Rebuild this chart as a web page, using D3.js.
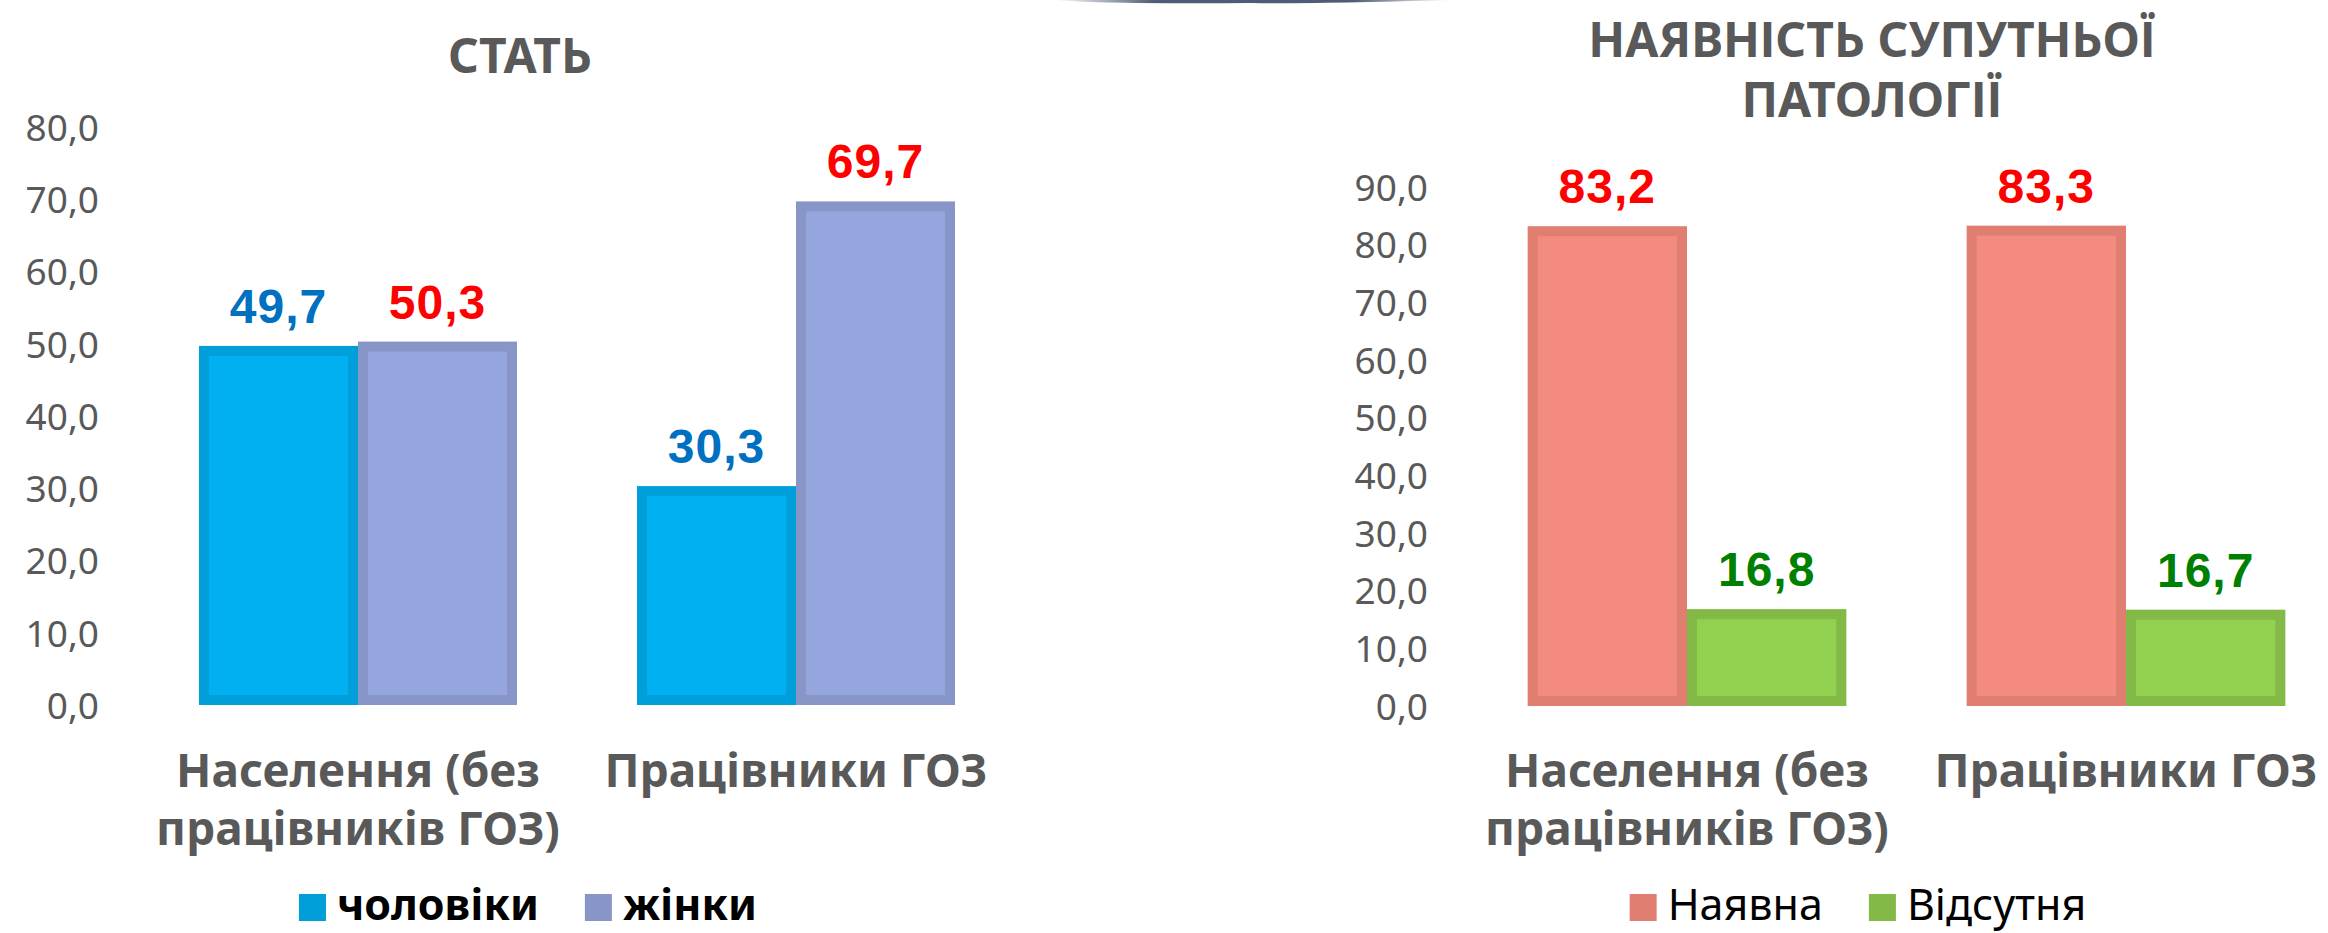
<!DOCTYPE html>
<html>
<head>
<meta charset="utf-8">
<script src="https://cdn.jsdelivr.net/npm/d3@7"></script>
<style>
  html, body { margin: 0; padding: 0; background: #fff; }
  svg { display: block; font-family: "Noto Sans", "Open Sans", "DejaVu Sans", sans-serif; }
</style>
</head>
<body>
<svg id="chart" width="2328" height="933"></svg>
<script>
// data
const categories = ["Населення (без працівників ГОЗ)", "Працівники ГОЗ"];
const categoryLines = [["Населення (без", "працівників ГОЗ)"], ["Працівники ГОЗ"]];

const sexTitle = ["СТАТЬ"];
const sexSeries = ["чоловіки", "жінки"];
const menValues = [49.7, 30.3];
const womenValues = [50.3, 69.7];
const sexTicks = [0, 10, 20, 30, 40, 50, 60, 70, 80];

const pathTitle = ["НАЯВНІСТЬ СУПУТНЬОЇ", "ПАТОЛОГІЇ"];
const pathSeries = ["Наявна", "Відсутня"];
const presentValues = [83.2, 83.3];
const absentValues = [16.8, 16.7];
const pathTicks = [0, 10, 20, 30, 40, 50, 60, 70, 80, 90];

const svg = d3.select('#chart');
const fmt = v => d3.format(".1f")(v).replace(".", ",");
const grey = "#595959";

// thin gradient strip at the top
const defs = svg.append("defs");
const grad = defs.append("linearGradient").attr("id", "topline");
grad.append("stop").attr("offset", "0%").attr("stop-color", "#3b4a66").attr("stop-opacity", 0);
grad.append("stop").attr("offset", "25%").attr("stop-color", "#3b4a66").attr("stop-opacity", 0.9);
grad.append("stop").attr("offset", "75%").attr("stop-color", "#3b4a66").attr("stop-opacity", 0.9);
grad.append("stop").attr("offset", "100%").attr("stop-color", "#3b4a66").attr("stop-opacity", 0);
svg.append("path")
  .attr("d", "M1055,0 L1452,0 Q1300,4 1253,3 L1250,3 Q1100,4 1055,0 Z")
  .attr("fill", "url(#topline)");

const drawChart = (cfg) => {
  const g = svg.append("g");

  const x = d3.scaleBand()
    .domain(categories)
    .range(cfg.xRange)
    .paddingInner(0.274)
    .paddingOuter(0.137);
  const xs = d3.scaleBand()
    .domain(cfg.series)
    .range([0, x.bandwidth()]);
  const y = d3.scaleLinear()
    .domain([0, d3.max(cfg.ticks)])
    .range(cfg.yRange);

  // title
  g.append("text")
    .attr("x", cfg.titleX)
    .attr("text-anchor", "middle")
    .attr("fill", grey)
    .style("font-weight", "bold")
    .style("font-size", "48px")
    .selectAll("tspan")
    .data(cfg.title)
    .enter()
    .append("tspan")
    .attr("x", cfg.titleX)
    .attr("y", (d, i) => cfg.titleY + i * 60)
    .text(d => d);

  // y axis labels
  const yAxis = g.append("g")
    .attr("transform", `translate(${cfg.axisX},0)`)
    .call(d3.axisLeft(y).tickValues(cfg.ticks).tickFormat(fmt).tickSize(0).tickPadding(0));
  yAxis.select(".domain").remove();
  yAxis.selectAll("text")
    .attr("fill", grey)
    .style("font-size", "37px")
    .style("font-family", "\"Noto Sans\", sans-serif")
    .attr("dy", "0.36em");

  // bars
  const rows = categories.map((c, i) => cfg.series.map((s, j) => ({
    cat: c, key: s, value: cfg.values[j][i], j: j
  })));
  const grp = g.selectAll(".cat")
    .data(rows)
    .enter()
    .append("g")
    .attr("class", "cat")
    .attr("transform", (d, i) => `translate(${x(categories[i])},0)`);

  const bw = 10;
  grp.selectAll("rect")
    .data(d => d)
    .enter()
    .append("rect")
    .attr("x", d => xs(d.key) + bw / 2)
    .attr("y", d => y(d.value) + bw / 2)
    .attr("width", xs.bandwidth() - bw)
    .attr("height", d => y(0) - y(d.value) - bw)
    .attr("fill", d => cfg.fills[d.j])
    .attr("stroke", d => cfg.strokes[d.j])
    .attr("stroke-width", bw);

  grp.selectAll(".val")
    .data(d => d)
    .enter()
    .append("text")
    .attr("class", "val")
    .attr("x", d => xs(d.key) + xs.bandwidth() / 2)
    .attr("y", d => y(d.value) - 23)
    .attr("text-anchor", "middle")
    .attr("fill", d => cfg.labelColors[d.j])
    .style("font-weight", "bold")
    .style("font-size", "48px")
    .style("font-family", "\"Liberation Sans\", Arial, sans-serif")
    .style("letter-spacing", "1px")
    .text(d => fmt(d.value));

  // category labels
  g.selectAll(".catlab")
    .data(categoryLines)
    .enter()
    .append("text")
    .attr("class", "catlab")
    .attr("text-anchor", "middle")
    .attr("fill", grey)
    .style("font-weight", "bold")
    .style("font-size", "46px")
    .each(function(lines, i) {
      const cx = x(categories[i]) + x.bandwidth() / 2;
      d3.select(this).selectAll("tspan")
        .data(lines)
        .enter()
        .append("tspan")
        .attr("x", cx)
        .attr("y", (d, k) => 787 + k * 58)
        .text(d => d);
    });

  // legend
  const leg = g.append("g");
  let lx = 0;
  cfg.series.forEach((s, j) => {
    leg.append("rect")
      .attr("x", lx).attr("y", 894)
      .attr("width", 27).attr("height", 27)
      .attr("fill", cfg.strokes[j]);
    const t = leg.append("text")
      .attr("x", lx + 38)
      .attr("y", 920)
      .attr("fill", "#000")
      .style("font-weight", cfg.legendWeight)
      .style("font-size", "43px")
      .text(s);
    lx += 38 + t.node().getComputedTextLength() + 46;
  });
  const legW = lx - 46;
  leg.attr("transform", `translate(${cfg.legendCenter - legW / 2},0)`);
};

drawChart({
  title: sexTitle, titleX: 520, titleY: 73,
  series: sexSeries, values: [menValues, womenValues], ticks: sexTicks,
  xRange: [139, 1015], yRange: [705, 127], axisX: 99,
  fills: ["#00b0f0", "#95a5dd"], strokes: ["#009fd9", "#8895c7"],
  labelColors: ["#0070c0", "#ff0000"],
  legendCenter: 528, legendWeight: "bold"
});

drawChart({
  title: pathTitle, titleX: 1872, titleY: 57,
  series: pathSeries, values: [presentValues, absentValues], ticks: pathTicks,
  xRange: [1467.5, 2345.5], yRange: [706, 187], axisX: 1428,
  fills: ["#f38b7e", "#92d050"], strokes: ["#e07f71", "#82b947"],
  labelColors: ["#ff0000", "#008000"],
  legendCenter: 1858, legendWeight: "normal"
});
</script>
</body>
</html>
